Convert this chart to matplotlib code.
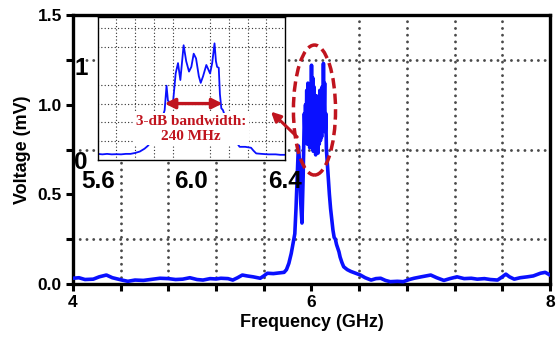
import matplotlib
matplotlib.use("Agg")
from matplotlib import pyplot as plt
from matplotlib.patches import Ellipse
import numpy as np

# main spectrum (GHz, mV)
main_freq = [4.00, 4.05, 4.10, 4.17, 4.22, 4.28, 4.33, 4.41, 4.46, 4.52, 4.59, 4.65,
             4.73, 4.80, 4.86, 4.92, 4.98, 5.04, 5.09, 5.15, 5.20, 5.24, 5.30, 5.34,
             5.38, 5.42, 5.46, 5.51, 5.57, 5.60, 5.63, 5.68, 5.73, 5.77, 5.79, 5.81,
             5.83, 5.85, 5.86, 5.87, 5.88, 5.89, 5.90, 5.91, 5.92, 5.93, 5.94, 5.945,
             5.95, 5.955, 5.96, 5.965, 5.97, 5.975, 5.98, 5.985, 5.99, 5.995, 6.00,
             6.005, 6.01, 6.015, 6.02, 6.025, 6.03, 6.035, 6.04, 6.045, 6.05, 6.055,
             6.06, 6.065, 6.07, 6.075, 6.08, 6.085, 6.09, 6.095, 6.10, 6.105, 6.11,
             6.115, 6.12, 6.125, 6.13, 6.14, 6.15, 6.16, 6.17, 6.18, 6.19, 6.20, 6.21,
             6.22, 6.23, 6.24, 6.255, 6.27, 6.30, 6.33, 6.37, 6.41, 6.45, 6.50, 6.54,
             6.58, 6.62, 6.66, 6.72, 6.77, 6.82, 6.86, 6.92, 7.00, 7.05, 7.11, 7.16,
             7.22, 7.28, 7.34, 7.39, 7.45, 7.50, 7.56, 7.60, 7.63, 7.66, 7.70, 7.75,
             7.81, 7.86, 7.92, 7.96, 8.00]
main_volt = [0.032, 0.035, 0.025, 0.027, 0.04, 0.05, 0.035, 0.022, 0.015, 0.022, 0.02, 0.025,
             0.032, 0.03, 0.025, 0.027, 0.035, 0.025, 0.022, 0.03, 0.028, 0.032, 0.03, 0.022,
             0.035, 0.05, 0.045, 0.04, 0.032, 0.045, 0.06, 0.058, 0.062, 0.065, 0.08, 0.115,
             0.17, 0.245, 0.28, 0.42, 0.6, 0.77, 0.68, 0.45, 0.34, 0.6, 0.95, 0.85,
             1.0, 0.8, 1.08, 0.78, 1.12, 0.85, 1.0, 0.76, 1.05, 0.9, 1.22,
             0.8, 1.15, 0.74, 1.1, 0.8, 0.98, 0.72, 1.05, 0.75, 0.9, 0.73,
             0.95, 0.78, 1.08, 0.8, 0.98, 0.82, 1.1, 0.9, 1.23, 0.95, 1.12,
             0.85, 0.95, 0.75, 0.7, 0.6, 0.5, 0.42, 0.36, 0.3, 0.26, 0.25, 0.22,
             0.2, 0.18, 0.15, 0.12, 0.096, 0.08, 0.07, 0.06, 0.05, 0.035, 0.022, 0.03,
             0.032, 0.02, 0.013, 0.015, 0.013, 0.025, 0.032, 0.04, 0.05, 0.035, 0.02, 0.03,
             0.04, 0.03, 0.032, 0.027, 0.03, 0.025, 0.022, 0.04, 0.055, 0.04, 0.027, 0.035,
             0.04, 0.045, 0.06, 0.065, 0.05]

# zoomed view of the peak (inset)
ins_freq = [5.60, 5.62, 5.64, 5.66, 5.68, 5.70, 5.72, 5.74, 5.76, 5.78, 5.80, 5.814,
            5.83, 5.85, 5.87, 5.886, 5.894, 5.90, 5.915, 5.922, 5.933, 5.943, 5.953,
            5.967, 5.978, 5.99, 6.00, 6.01, 6.02, 6.032, 6.04, 6.05, 6.064, 6.08,
            6.089, 6.099, 6.105, 6.11, 6.117, 6.122, 6.128, 6.135, 6.15, 6.17, 6.19,
            6.206, 6.23, 6.255, 6.265, 6.277, 6.30, 6.33, 6.36, 6.38, 6.40]
ins_volt = [0.065, 0.06, 0.065, 0.06, 0.062, 0.06, 0.065, 0.065, 0.075, 0.09, 0.12, 0.15,
            0.2, 0.28, 0.4, 0.53, 0.79, 0.63, 0.6, 0.62, 0.92, 1.03, 0.85,
            1.22, 1.05, 0.94, 0.99, 1.13, 1.08, 0.89, 0.82, 0.89, 1.01, 0.92,
            1.03, 1.24, 1.05, 0.99, 0.98, 0.7, 0.55, 0.53, 0.42, 0.3, 0.2,
            0.14, 0.14, 0.13, 0.1, 0.07, 0.065, 0.06, 0.06, 0.055, 0.055]

bw_lo, bw_hi, bw_level = 5.886, 6.133, 0.6
bw_label = "3-dB bandwidth:\n240 MHz"

red = "#C0141E"
blue = "#0A10FF"
sans = "Liberation Sans"
serif = "Liberation Serif"

fig = plt.figure(figsize=(5.56, 3.41), dpi=100)
ax = fig.add_axes([73 / 556, 57 / 341, 477 / 556, 269 / 341])

ax.plot(main_freq, main_volt, color=blue, lw=2.6, zorder=3)
ax.set_xlim(4, 8)
ax.set_ylim(0, 1.5)
ax.set_xticks([4, 6, 8])
ax.set_xticks(np.arange(4, 8.01, 0.4), minor=True)
ax.set_yticks([0, 0.5, 1.0, 1.5])
ax.set_yticks(np.arange(0, 1.51, 0.25), minor=True)
ax.set_yticklabels(["0.0", "0.5", "1.0", "1.5"])
ax.tick_params(which="both", direction="out", length=5, width=2.2, pad=3,
               labelsize=12.5)
for lab in ax.get_xticklabels() + ax.get_yticklabels():
    lab.set_fontfamily(sans)
    lab.set_fontweight("bold")
ax.grid(which="minor", color="#4a4a4a", lw=2.1, linestyle=(0, (0.01, 2.3)),
        dash_capstyle="round")
ax.set_axisbelow(True)
for sp in ax.spines.values():
    sp.set_linewidth(2.4)
ax.set_xlabel("Frequency (GHz)", fontsize=13, fontweight="bold", family=sans,
              labelpad=3)
ax.set_ylabel("Voltage (mV)", fontsize=13, fontweight="bold", family=sans,
              labelpad=5)

ell = Ellipse((6.025, 0.97), 0.353, 0.725, fill=False, edgecolor=red, lw=2.5,
              linestyle=(0, (3, 1.5)), zorder=5)
ax.add_patch(ell)

# inset
ins = fig.add_axes([97.7 / 556, 181 / 341, 187.3 / 556, 143 / 341])
ins.set_facecolor("white")
ins.plot(ins_freq, ins_volt, color=blue, lw=1.3, zorder=2)
ins.set_xlim(5.6, 6.4)
ins.set_ylim(0, 1.52)
ins.set_xticks([5.6, 6.0, 6.4])
ins.set_xticklabels(["5.6", "6.0", "6.4"])
ins.set_xticks(np.arange(5.6, 6.41, 0.08), minor=True)
ins.set_yticks([0, 1])
ins.set_yticklabels(["0", "1"])
ins.set_yticks(np.arange(0, 1.53, 0.2), minor=True)
ins.tick_params(which="both", length=0, labelsize=17.5)
ins.tick_params(axis="x", pad=7)
ins.tick_params(axis="y", pad=7)
for lab in ins.get_xticklabels() + ins.get_yticklabels():
    lab.set_fontfamily(sans)
    lab.set_fontweight("bold")
ins.grid(which="minor", color="#333333", lw=1.0, linestyle=(0, (0.01, 2.4)),
         dash_capstyle="round")
ins.set_axisbelow(True)
for sp in ins.spines.values():
    sp.set_linewidth(1.0)

ins.text((bw_lo + bw_hi) / 2 - 0.01, 0.33, bw_label, ha="center", va="center",
         color=red, fontsize=11, fontweight="bold", family=serif,
         linespacing=1.2, zorder=4,
         bbox=dict(facecolor="white", edgecolor="none", pad=1.5))
ins.annotate("", xy=(bw_lo, bw_level), xytext=(bw_hi, bw_level),
             arrowprops=dict(arrowstyle="<|-|>", color=red, lw=2.4,
                             mutation_scale=15, shrinkA=0, shrinkB=0),
             zorder=5)

# arrow from the ellipse to the inset
ins.annotate("", xy=(6.34, 0.514), xycoords="data",
             xytext=(5.88, 0.82), textcoords=ax.transData,
             arrowprops=dict(arrowstyle="-|>", color=red, lw=2.2,
                             mutation_scale=14, shrinkA=0, shrinkB=0),
             annotation_clip=False, zorder=6)

fig.savefig("out.png", dpi=100)
